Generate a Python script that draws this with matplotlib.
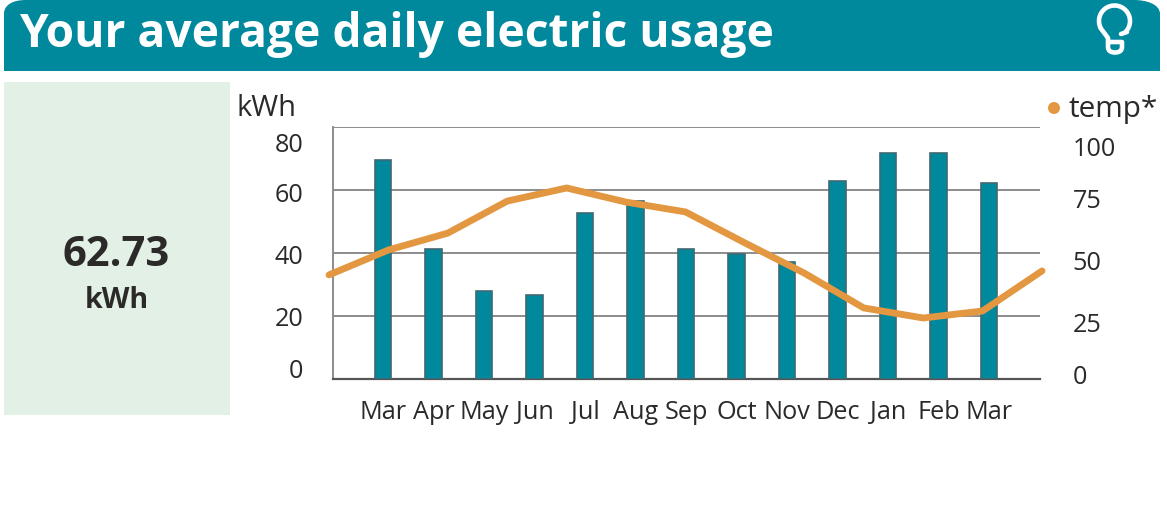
import numpy as np
import matplotlib
matplotlib.use("Agg")
import matplotlib.pyplot as plt
from matplotlib.patches import Rectangle, PathPatch, Circle
from matplotlib.path import Path

months = ["Mar", "Apr", "May", "Jun", "Jul", "Aug", "Sep", "Oct", "Nov", "Dec", "Jan", "Feb", "Mar"]
kwh = [69.6, 41.4, 27.8, 26.8, 52.6, 56.6, 41.4, 39.6, 37.3, 63.0, 71.8, 71.8, 62.3]
temp = [41.3, 51.2, 57.9, 70.6, 75.8, 70.2, 66.3, 54.0, 42.0, 28.2, 24.2, 27.0, 42.9]
kwh_ticks = [0, 20, 40, 60, 80]
temp_ticks = [0, 25, 50, 75, 100]

W, H = 1167, 521
TEAL = "#00889C"
ORANGE = "#E39740"
INK = "#2B2A29"
plt.rcParams["font.family"] = ["Open Sans", "DejaVu Sans"]

fig = plt.figure(figsize=(W / 100, H / 100), dpi=100, facecolor="white")
px = fig.add_axes([0, 0, 1, 1], zorder=0)
px.set_xlim(0, W); px.set_ylim(H, 0); px.axis("off")

# header
L, R, B = 4, 1160, 71
verts = [(L, B), (L, 14), (L, 4), (14, 0), (26, 0), (R - 26, 0), (R - 14, 0), (R, 4), (R, 14), (R, B), (L, B)]
codes = [Path.MOVETO, Path.LINETO, Path.CURVE4, Path.CURVE4, Path.CURVE4, Path.LINETO,
         Path.CURVE4, Path.CURVE4, Path.CURVE4, Path.LINETO, Path.CLOSEPOLY]
px.add_patch(PathPatch(Path(verts, codes), fc=TEAL, ec="none"))
px.text(19, 35, "Your average daily electric usage", color="white", fontsize=33.2,
        fontweight="bold", va="center", ha="left")

# bulb icon
cx, cy, r = 1114.5, 21, 15.5
t = np.radians(np.linspace(-44, 205, 60))
px.plot(cx + r * np.cos(t), cy - r * np.sin(t), color="white", lw=3.3, solid_capstyle="round")
px.plot([1127, 1121], [32, 34], color="white", lw=3.3, solid_capstyle="round")
px.plot([1100.5, 1108], [28, 38], color="white", lw=3.3, solid_capstyle="round")
base = [(1108, 38), (1108, 47), (1108, 51), (1111, 52.5), (1115, 52.5), (1119, 52.5), (1122, 51),
        (1122, 47), (1122, 42), (1108, 42)]
base_codes = [Path.MOVETO, Path.LINETO, Path.CURVE4, Path.CURVE4, Path.CURVE4, Path.CURVE4, Path.CURVE4,
              Path.CURVE4, Path.LINETO, Path.LINETO]
px.add_patch(PathPatch(Path(base, base_codes), fc="none", ec="white", lw=3.3, joinstyle="round"))

# KPI panel
px.add_patch(Rectangle((4, 82), 226, 333, fc="#E2F0E6", ec="none"))
px.text(116, 255, "62.73", color=INK, fontsize=30, fontweight="bold", ha="center", va="center")
px.text(116.5, 301, "kWh", color=INK, fontsize=20.6, fontweight="bold", ha="center", va="center")

# unit + legend
px.text(236.5, 109, "kWh", color=INK, fontsize=21, ha="left", va="center")
px.add_patch(Circle((1054, 108), 6, fc=ORANGE, ec="none"))
px.text(1068.5, 109, "temp*", color=INK, fontsize=21.4, ha="left", va="center")

# chart
x0, x1, y0, y1 = 333, 1040, 127, 379
ax = fig.add_axes([x0 / W, 1 - y1 / H, (x1 - x0) / W, (y1 - y0) / H], zorder=1)
ax.patch.set_alpha(0)
xs = np.arange(1, len(kwh) + 1)
ax.bar(xs - 0.01, kwh, width=0.335, color=TEAL, edgecolor="#3F6A73", linewidth=1.2, zorder=3)
ax.set_xlim(0, 14); ax.set_ylim(0, 80)
ax.set_yticks(kwh_ticks); ax.set_yticklabels([])
ax.yaxis.grid(True, color="#8C8C8C", lw=1.4, zorder=1)
ax.set_axisbelow(True)
ax.tick_params(length=0)
ax.set_xticks(xs - 0.01); ax.set_xticklabels(months, fontsize=18.2, color=INK)
ax.tick_params(axis="x", pad=14.8)
for s in ("top", "right"):
    ax.spines[s].set_visible(False)
ax.spines["left"].set_color("#8C8C8C"); ax.spines["left"].set_linewidth(1.4)
ax.spines["bottom"].set_color("#555555"); ax.spines["bottom"].set_linewidth(1.6)

# tick labels are offset from the gridlines in the source (pixels; + is upward)
left_off = {0: 8, 20: -4, 40: -5, 60: -5, 80: -19}
for v in kwh_ticks:
    ax.annotate(str(v), xy=(0, v), xycoords=ax.get_yaxis_transform(),
                xytext=(-30 * 0.72, left_off[v] * 0.72), textcoords="offset points",
                ha="right", va="center", fontsize=18.2, color=INK)

ax2 = fig.add_axes(ax.get_position(), zorder=2)
ax2.patch.set_alpha(0)
idx = np.arange(len(temp))
ax2.plot(idx, temp, color=ORANGE, lw=4.9, solid_joinstyle="miter", solid_capstyle="round",
         clip_on=False, zorder=5)
ax2.set_xlim((333 - 329) / 59.42, (1040 - 329) / 59.42)
ax2.set_ylim(0, 100)
ax2.axis("off")
right_off = {0: 2, 25: -10, 50: -10, 75: -11, 100: -22}
for v in temp_ticks:
    ax2.annotate(str(v), xy=(1, v), xycoords=ax2.get_yaxis_transform(),
                 xytext=(32.5 * 0.72, right_off[v] * 0.72), textcoords="offset points",
                 ha="left", va="center", fontsize=18.2, color=INK, annotation_clip=False)

fig.savefig("out.png", dpi=100, facecolor="white")
